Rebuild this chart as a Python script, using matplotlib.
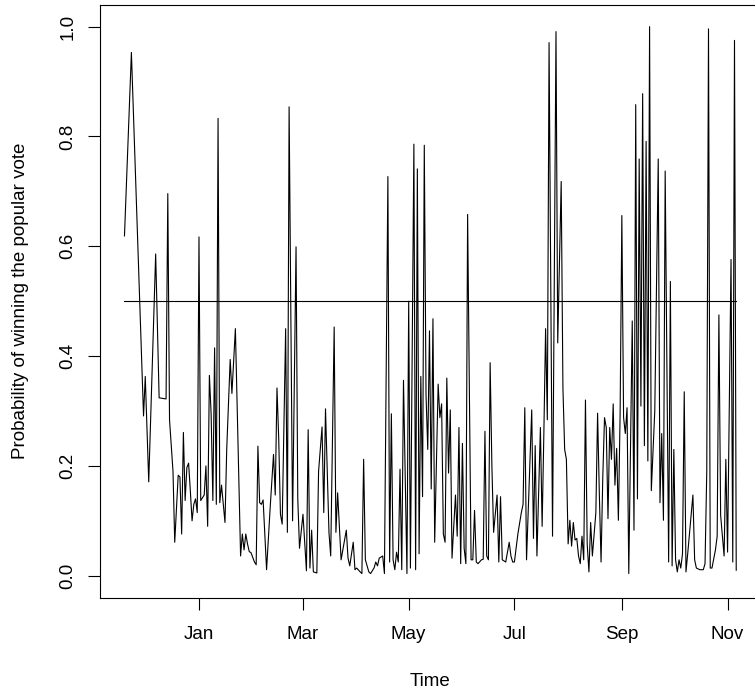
import matplotlib
matplotlib.use("Agg")
import matplotlib.pyplot as plt
import matplotlib.dates as mdates
import numpy as np
import pandas as pd

plt.rcParams["font.family"] = ["Liberation Sans", "DejaVu Sans"]

START = "2012-01-01"

# days since 1 Jan 2012 and probability
days = [-43, -39, -32, -31, -29, -25, -23, -19, -18, -17,
        -15, -14, -12, -11, -10, -9, -8, -7, -6, -5,
        -4, -3, -2, -1, 0, 1, 2, 3, 4, 5,
        6, 7, 8, 9, 10, 11, 12, 13, 15, 16,
        18, 19, 21, 24, 25, 26, 27, 28, 29, 30,
        32, 33, 34, 35, 36, 37, 39, 41, 43, 44,
        45, 46, 47, 48, 50, 51, 52, 54, 56, 57,
        58, 60, 62, 63, 64, 65, 66, 68, 69, 71,
        72, 73, 75, 76, 78, 79, 80, 82, 84, 85,
        86, 87, 88, 89, 90, 91, 93, 94, 95, 96,
        98, 99, 101, 102, 103, 104, 106, 107, 109, 110,
        111, 112, 113, 114, 115, 116, 117, 118, 120, 121,
        122, 124, 125, 126, 127, 128, 129, 130, 131, 132,
        133, 134, 135, 136, 138, 139, 140, 141, 142, 143,
        144, 145, 146, 148, 149, 150, 151, 152, 153, 154,
        155, 157, 158, 159, 160, 161, 163, 164, 165, 166,
        167, 168, 169, 170, 172, 173, 174, 175, 177, 179,
        180, 181, 182, 184, 186, 187, 188, 189, 192, 193,
        194, 195, 197, 198, 199, 200, 201, 202, 204, 206,
        207, 209, 210, 211, 212, 213, 214, 215, 216, 217,
        218, 219, 220, 221, 222, 223, 224, 225, 226, 227,
        229, 230, 231, 232, 233, 234, 235, 236, 237, 238,
        239, 240, 241, 242, 243, 244, 245, 246, 247, 248,
        250, 251, 252, 253, 254, 255, 256, 257, 258, 259,
        260, 261, 263, 265, 266, 267, 268, 269, 271, 272,
        273, 274, 275, 276, 277, 278, 279, 280, 281, 282,
        284, 285, 286, 287, 289, 291, 292, 293, 294, 295,
        296, 298, 299, 300, 301, 303, 304, 305, 307, 308,
        309, 310]

prob = [0.619, 0.953, 0.291, 0.363, 0.171, 0.586, 0.324, 0.322, 0.696, 0.284,
        0.19, 0.061, 0.183, 0.18, 0.076, 0.261, 0.137, 0.197, 0.205, 0.155,
        0.10, 0.13, 0.14, 0.115, 0.617, 0.137, 0.142, 0.147, 0.20, 0.09,
        0.365, 0.295, 0.137, 0.415, 0.13, 0.833, 0.133, 0.165, 0.097, 0.23,
        0.394, 0.332, 0.45, 0.036, 0.076, 0.047, 0.076, 0.058, 0.044, 0.042,
        0.025, 0.02, 0.236, 0.133, 0.13, 0.138, 0.011, 0.12, 0.221, 0.147,
        0.342, 0.25, 0.112, 0.094, 0.45, 0.079, 0.854, 0.10, 0.599, 0.14,
        0.05, 0.112, 0.009, 0.266, 0.014, 0.083, 0.007, 0.005, 0.19, 0.271,
        0.115, 0.304, 0.079, 0.036, 0.453, 0.079, 0.151, 0.029, 0.065, 0.083,
        0.032, 0.018, 0.04, 0.061, 0.011, 0.014, 0.007, 0.004, 0.212, 0.029,
        0.007, 0.004, 0.014, 0.025, 0.018, 0.032, 0.036, 0.004, 0.727, 0.025,
        0.295, 0.029, 0.011, 0.043, 0.025, 0.194, 0.011, 0.356, 0.004, 0.5,
        0.014, 0.786, 0.011, 0.741, 0.04, 0.363, 0.144, 0.784, 0.33, 0.23,
        0.446, 0.158, 0.468, 0.061, 0.349, 0.288, 0.313, 0.076, 0.061, 0.36,
        0.187, 0.302, 0.032, 0.147, 0.072, 0.27, 0.022, 0.241, 0.05, 0.022,
        0.658, 0.029, 0.029, 0.119, 0.025, 0.022, 0.029, 0.03, 0.263, 0.036,
        0.029, 0.388, 0.201, 0.079, 0.147, 0.025, 0.144, 0.029, 0.025, 0.061,
        0.036, 0.025, 0.025, 0.076, 0.115, 0.13, 0.306, 0.029, 0.302, 0.068,
        0.237, 0.036, 0.27, 0.09, 0.26, 0.45, 0.284, 0.971, 0.072, 0.991,
        0.424, 0.718, 0.342, 0.23, 0.212, 0.058, 0.101, 0.054, 0.097, 0.065,
        0.068, 0.036, 0.022, 0.072, 0.029, 0.32, 0.058, 0.007, 0.097, 0.036,
        0.115, 0.296, 0.15, 0.025, 0.18, 0.288, 0.27, 0.104, 0.27, 0.212,
        0.313, 0.165, 0.232, 0.101, 0.295, 0.656, 0.288, 0.259, 0.306, 0.004,
        0.464, 0.083, 0.858, 0.14, 0.759, 0.309, 0.878, 0.237, 0.791, 0.209,
        1.0, 0.155, 0.3, 0.759, 0.133, 0.259, 0.101, 0.737, 0.025, 0.536,
        0.018, 0.23, 0.029, 0.007, 0.029, 0.014, 0.04, 0.335, 0.007, 0.04,
        0.11, 0.147, 0.029, 0.014, 0.011, 0.011, 0.022, 0.19, 0.996, 0.014,
        0.014, 0.047, 0.072, 0.475, 0.11, 0.036, 0.212, 0.043, 0.576, 0.025,
        0.975, 0.01]

assert len(days) == len(prob)

y_ticks = [0.0, 0.2, 0.4, 0.6, 0.8, 1.0]
y_ticklabels = ["0.0", "0.2", "0.4", "0.6", "0.8", "1.0"]


def main():
    dates = pd.Timestamp(START) + pd.to_timedelta(days, unit="D")
    W, H = 755, 692
    fig = plt.figure(figsize=(W / 100, H / 100), dpi=100)
    # axes box in pixels (R style frame, right side runs off the picture)
    left, right, top, bottom = 100, 760.7, 4.7, 597.7
    ax = fig.add_axes([left / W, 1 - bottom / H, (right - left) / W,
                       (bottom - top) / H])

    ax.plot(dates, prob, c="k", lw=0.8)
    ax.plot([dates[0], dates[-1]], [0.5, 0.5], c="k", lw=0.8)

    # R pads the range by 4% on each side
    span = dates[-1] - dates[0]
    ax.set_xlim(dates[0] - 0.04 * span, dates[-1] + 0.04 * span)
    ax.set_ylim(-0.04, 1.04)

    ax.xaxis.set_major_locator(mdates.MonthLocator(bymonth=[1, 3, 5, 7, 9, 11]))
    ax.xaxis.set_major_formatter(mdates.DateFormatter("%b"))
    ax.set_yticks(y_ticks)
    ax.set_yticklabels(y_ticklabels)

    fs = 13.5
    ax.tick_params(axis="both", direction="out", length=8.6, width=0.8,
                   colors="k", labelsize=fs)
    ax.tick_params(axis="x", pad=12)
    ax.tick_params(axis="y", pad=8.2, labelrotation=90)
    for lab in ax.get_yticklabels():
        lab.set_va("center")
    for sp in ax.spines.values():
        sp.set_linewidth(0.8)
        sp.set_color("k")

    fig.text((left + right) / 2 / W, 1 - 686.3 / H, "Time", ha="center",
             va="baseline", fontsize=fs)
    fig.text(25 / W, 1 - (top + bottom) / 2 / H,
             "Probability of winning the popular vote", rotation=90,
             rotation_mode="anchor", ha="center", va="baseline", fontsize=fs)

    fig.savefig("out.png", dpi=100)


if __name__ == '__main__':
    main()
